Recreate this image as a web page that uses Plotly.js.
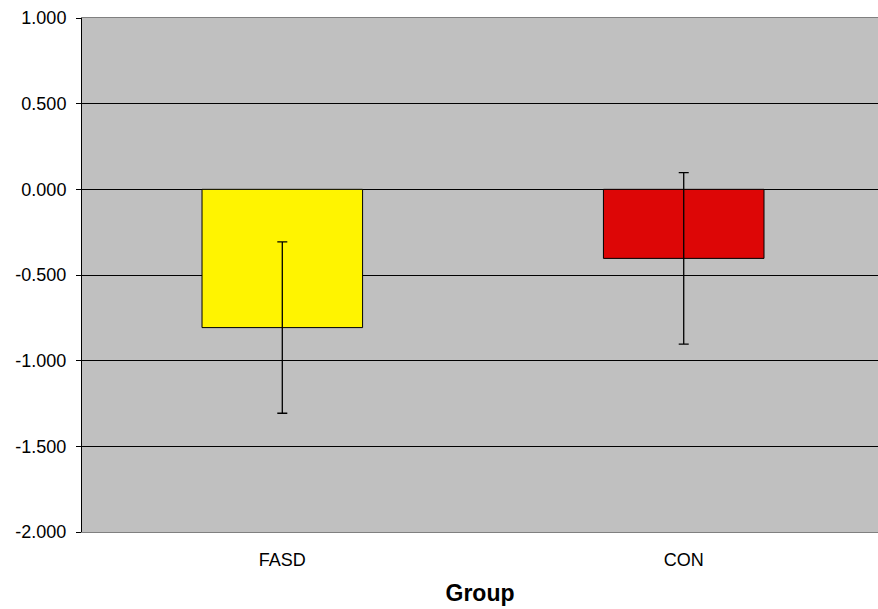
<!DOCTYPE html>
<html>
<head>
<meta charset="utf-8">
<script src="https://cdn.plot.ly/plotly-3.0.1.min.js"></script>
<style>html,body{margin:0;padding:0;background:#fff;}#chart{width:878px;height:609px;}</style>
</head>
<body>
<div id="chart"></div>
<script>
const categories = ["FASD", "CON"];
const values = [-0.807, -0.403];
const errors = [0.5, 0.5];
const barColors = ["#fff400", "#dd0606"];
const yTickVals = [1, 0.5, 0, -0.5, -1, -1.5, -2];
const yTickText = ["1.000", "0.500", "0.000", "-0.500", "-1.000", "-1.500", "-2.000"];

const trace = {
  type: "bar",
  x: categories,
  y: values,
  width: 0.4,
  marker: {color: barColors, line: {color: "#000", width: 1}},
  error_y: {type: "data", array: errors, visible: true, color: "#000", thickness: 1.3, width: 5},
  hoverinfo: "skip"
};

const layout = {
  width: 878, height: 609,
  margin: {l: 82, r: 0, t: 18, b: 77},
  paper_bgcolor: "#fff",
  plot_bgcolor: "#c0c0c0",
  showlegend: false,
  font: {family: "Liberation Sans, Arial, sans-serif", color: "#000"},
  xaxis: {
    type: "category",
    range: [-0.499, 1.484],
    showgrid: false,
    showline: true, linecolor: "#808080", linewidth: 1, mirror: true,
    ticks: "", tickfont: {size: 18},
    ticklabelstandoff: 11,
    title: {text: "Group", font: {size: 23, weight: "bold"}, standoff: 16}
  },
  yaxis: {
    range: [-2, 1],
    tickvals: yTickVals, ticktext: yTickText,
    showgrid: true, gridcolor: "#000", gridwidth: 1,
    zeroline: true, zerolinecolor: "#000", zerolinewidth: 1,
    showline: true, linecolor: "#000", linewidth: 1,
    ticks: "outside", ticklen: 5, tickcolor: "#000",
    ticklabelstandoff: 6,
    tickfont: {size: 18}
  }
};

Plotly.newPlot("chart", [trace], layout, {displayModeBar: false, staticPlot: true});
</script>
</body>
</html>
